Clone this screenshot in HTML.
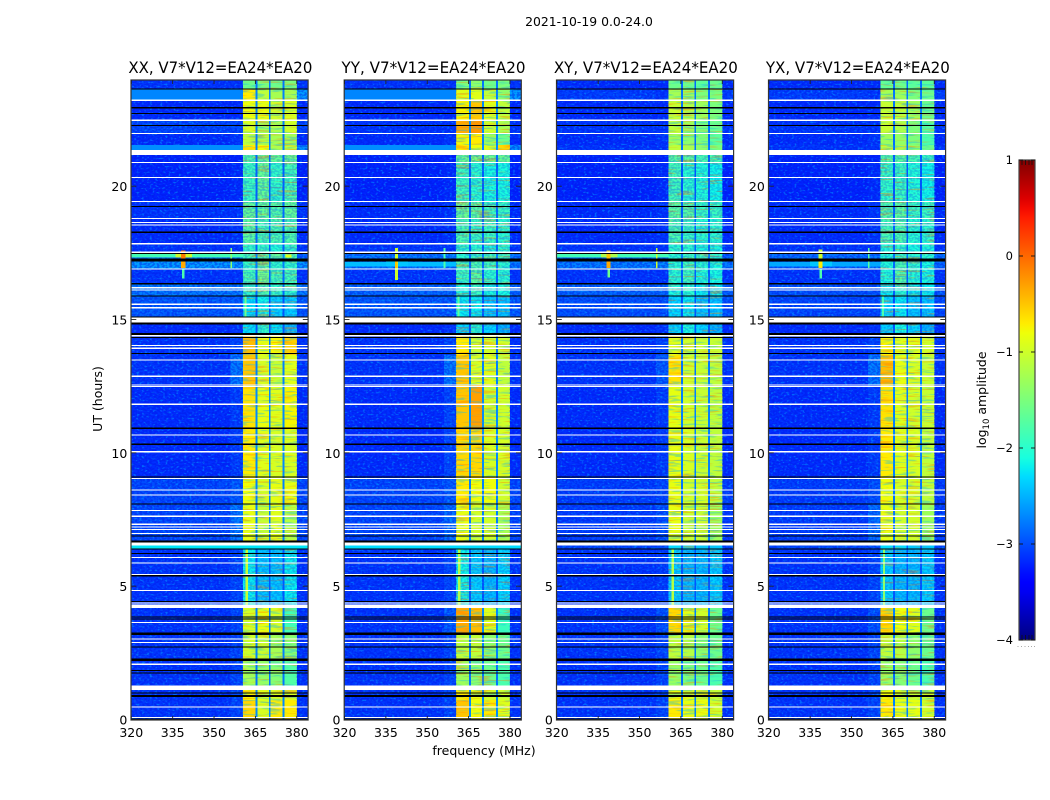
<!DOCTYPE html>
<html lang="en">
<head>
<meta charset="utf-8">
<title>2021-10-19 0.0-24.0 amplitude waterfall</title>
<style>
html,body{margin:0;padding:0;background:#fff;width:1050px;height:800px;overflow:hidden}
svg{display:block}
text{font-family:"DejaVu Sans","Liberation Sans",sans-serif;fill:#000}
</style>
</head>
<body>
<svg id="chart" xmlns="http://www.w3.org/2000/svg" width="1050" height="800" viewBox="0 0 1050 800">
  <defs>
    <linearGradient id="jet-gradient" x1="0" y1="1" x2="0" y2="0"></linearGradient>
    <filter id="speckle-light" x="0" y="0" width="100%" height="100%" color-interpolation-filters="sRGB">
      <feTurbulence type="fractalNoise" baseFrequency="0.38 0.5" numOctaves="1" seed="7"/>
      <feColorMatrix type="matrix" values="0 0 0 0 0  0 0 0 0 0.6  0 0 0 0 1  0 7 0 0 -3.9"/>
    </filter>
    <filter id="speckle-dark" x="0" y="0" width="100%" height="100%" color-interpolation-filters="sRGB">
      <feTurbulence type="fractalNoise" baseFrequency="0.4 0.55" numOctaves="1" seed="23"/>
      <feColorMatrix type="matrix" values="0 0 0 0 0  0 0 0 0 0.08  0 0 0 0 0.9  0 7 0 0 -3.0"/>
    </filter>
    <filter id="streak-warm" x="0" y="0" width="100%" height="100%" color-interpolation-filters="sRGB">
      <feTurbulence type="fractalNoise" baseFrequency="0.04 0.55" numOctaves="2" seed="11"/>
      <feColorMatrix type="matrix" values="0 0 0 0 1  0 0 0 0 0.5  0 0 0 0 0  0 8 0 0 -4.6"/>
    </filter>
    <filter id="streak-cool" x="0" y="0" width="100%" height="100%" color-interpolation-filters="sRGB">
      <feTurbulence type="fractalNoise" baseFrequency="0.06 0.5" numOctaves="2" seed="37"/>
      <feColorMatrix type="matrix" values="0 0 0 0 0.1  0 0 0 0 0.75  0 0 0 0 0.9  0 8 0 0 -4.4"/>
    </filter>
  </defs>
  <text x="589" y="26" text-anchor="middle" font-size="12.4">2021-10-19 0.0-24.0</text>
  <text x="484" y="755" text-anchor="middle" font-size="12.5">frequency (MHz)</text>
  <text transform="translate(102,399) rotate(-90)" text-anchor="middle" font-size="12.5">UT (hours)</text>
  <text transform="translate(986,400) rotate(-90)" text-anchor="middle" font-size="12.5">log<tspan font-size="8.5" dy="3">10</tspan><tspan dy="-3"> amplitude</tspan></text>
  <g id="panels"></g>
  <g id="colorbar"></g>
</svg>
<script>
// ---- chart data (frequency in MHz, time in UT hours, values in log10 amplitude) ----
const panelTitles = ['XX, V7*V12=EA24*EA20', 'YY, V7*V12=EA24*EA20', 'XY, V7*V12=EA24*EA20', 'YX, V7*V12=EA24*EA20'];
const xTickValues = [320, 335, 350, 365, 380];
const yTickValues = [0, 5, 10, 15, 20];
const colorbarTicks = [1, 0, -1, -2, -3, -4];
const freqEdges = [320, 356, 360.5, 365.1, 365.8, 369.9, 370.5, 374.9, 375.6, 380, 384];
const freqColumn = [0, 1, 2, 6, 3, 6, 4, 6, 5, 0];
const timeEdges = [24, 23.66, 23.25, 22.46, 22.01, 21.56, 21.19, 20.93, 19.43, 18.83, 17.89, 17.51, 17.33, 16.91, 16.35, 15.9, 15.08, 14.4, 13.69, 12.56, 10.88, 9.08, 8.06, 6.68, 6.41, 4.31, 3.23, 2.21, 1.2, 0.75, 0];
// columns: background, shoulder, band1, band2, band3, band4, band-gap
const xxValues = [
[-3.1,-3.1,-1.6,-1.5,-1.6,-1.5,-2.8],[-2.6,-2.6,-0.7,-1.1,-1.25,-1.25,-2.75],[-3.15,-3.15,-0.8,-0.85,-1.0,-0.95,-2.75],[-3.0,-3.0,-0.95,-1.3,-1.2,-1.0,-2.75],
[-3.15,-3.1,-1.1,-1.2,-1.25,-1.25,-2.8],[-2.65,-2.65,-0.7,-0.8,-1.2,-1.1,-2.75],[-3.2,-3.2,-1.75,-1.55,-1.65,-1.55,-2.85],[-3.2,-3.15,-1.9,-1.65,-1.95,-1.85,-2.9],
[-3.1,-3.1,-1.65,-1.65,-1.75,-1.65,-2.85],[-3.15,-3.1,-1.7,-1.85,-1.8,-1.75,-2.85],[-3.1,-3.1,-1.95,-1.95,-2.05,-1.95,-2.9],[-2.9,-2.9,-1.85,-1.75,-1.65,-1.75,-2.7],
[-2.6,-2.6,-1.95,-1.65,-1.95,-1.95,-2.75],[-3.1,-3.1,-1.85,-1.55,-1.85,-1.85,-2.85],[-2.75,-2.75,-1.95,-1.75,-1.95,-1.95,-2.85],[-2.9,-2.9,-2.25,-2.15,-2.35,-2.35,-2.95],
[-3.15,-3.1,-2.25,-1.95,-2.25,-2.45,-2.95],[-3.1,-3.0,-0.45,-0.85,-0.75,-0.55,-2.75],[-3.1,-2.75,-0.5,-0.95,-1.05,-0.9,-2.75],[-3.15,-3.05,-0.65,-0.85,-0.9,-0.75,-2.7],
[-3.15,-3.05,-0.7,-0.9,-0.95,-0.95,-2.7],[-3.0,-2.9,-0.8,-0.95,-0.85,-0.85,-2.75],[-3.0,-2.75,-0.85,-1.05,-0.9,-1.15,-2.75],[-2.2,-2.2,-2.1,-2.2,-2.3,-2.3,-2.8],
[-3.1,-3.0,-2.2,-2.4,-2.4,-2.2,-2.95],[-3.1,-3.0,-0.95,-0.85,-0.95,-1.85,-2.75],[-3.1,-3.0,-1.0,-1.05,-1.25,-1.45,-2.75],[-3.1,-3.0,-1.25,-1.35,-1.45,-1.75,-2.8],
[-3.1,-3.0,-0.75,-0.85,-0.95,-0.95,-2.75],[-3.1,-3.0,-0.6,-0.95,-0.7,-0.7,-2.7]
];
const yyValues = [
[-3.1,-3.1,-1.5,-1.4,-1.6,-1.5,-2.8],[-2.6,-2.6,-0.9,-0.9,-1.1,-1.4,-2.75],[-3.15,-3.15,-0.75,-0.5,-0.9,-1.1,-2.7],[-3.1,-3.1,-0.35,-0.25,-1.0,-1.2,-2.7],
[-3.15,-3.1,-0.8,-0.7,-1.3,-1.6,-2.75],[-2.65,-2.65,-0.7,-0.8,-0.9,-0.6,-2.7],[-3.2,-3.2,-1.6,-1.5,-1.6,-1.6,-2.85],[-3.2,-3.15,-1.9,-2.0,-2.1,-2.1,-2.9],
[-3.15,-3.1,-1.6,-1.7,-1.9,-1.9,-2.85],[-3.15,-3.1,-1.8,-1.9,-1.9,-2.0,-2.85],[-3.1,-3.1,-2.0,-2.0,-2.1,-2.0,-2.9],[-2.75,-2.7,-2.0,-1.9,-1.9,-1.9,-2.75],
[-2.75,-2.7,-1.9,-1.8,-1.9,-2.0,-2.8],[-3.1,-3.1,-1.9,-1.7,-2.0,-2.0,-2.9],[-2.85,-2.85,-2.1,-1.9,-2.1,-2.1,-2.9],[-2.9,-2.9,-2.2,-2.2,-2.4,-2.4,-2.95],
[-3.15,-3.1,-2.3,-2.0,-2.3,-2.5,-2.95],[-3.1,-3.0,-0.7,-1.0,-1.0,-1.0,-2.8],[-3.1,-2.75,-0.5,-0.95,-0.9,-1.1,-2.75],[-3.15,-3.0,-0.5,-0.3,-1.0,-1.0,-2.7],
[-3.15,-3.0,-0.6,-0.6,-0.95,-0.95,-2.7],[-3.0,-2.9,-0.7,-0.8,-0.8,-1.0,-2.75],[-3.0,-2.8,-0.85,-1.0,-1.0,-1.25,-2.75],[-2.2,-2.2,-2.1,-2.2,-2.3,-2.3,-2.8],
[-3.1,-3.0,-2.15,-2.35,-2.45,-2.3,-2.95],[-3.1,-2.9,-0.35,-0.45,-0.9,-1.9,-2.7],[-3.1,-3.0,-1.1,-1.1,-1.4,-1.6,-2.75],[-3.1,-3.0,-1.3,-1.4,-1.6,-1.8,-2.8],
[-3.1,-3.0,-0.7,-0.85,-1.0,-1.0,-2.75],[-3.1,-3.0,-0.5,-0.8,-0.7,-0.9,-2.7]
];
const xyValues = [
[-3.15,-3.15,-1.6,-1.6,-1.7,-1.6,-2.85],[-3.05,-3.1,-1.25,-1.3,-1.5,-1.5,-2.8],[-3.15,-3.15,-1.05,-1.15,-1.3,-1.5,-2.8],[-3.1,-3.1,-1.1,-1.3,-1.5,-1.6,-2.8],
[-3.15,-3.1,-1.3,-1.4,-1.5,-1.7,-2.85],[-3.1,-3.1,-1.1,-1.2,-1.4,-1.5,-2.8],[-3.2,-3.2,-1.7,-1.7,-1.8,-1.8,-2.9],[-3.2,-3.15,-1.85,-2.0,-2.05,-2.15,-2.95],
[-3.15,-3.1,-1.7,-1.75,-1.9,-1.9,-2.9],[-3.15,-3.1,-1.8,-1.9,-2.0,-2.0,-2.9],[-3.1,-3.1,-2.0,-2.0,-2.1,-2.1,-2.9],[-2.9,-2.9,-2.0,-1.9,-1.9,-2.0,-2.75],
[-2.75,-2.7,-2.0,-1.9,-2.0,-2.1,-2.85],[-3.1,-3.1,-2.0,-1.85,-2.05,-2.1,-2.9],[-2.85,-2.85,-2.1,-2.0,-2.2,-2.2,-2.9],[-2.95,-2.95,-2.3,-2.2,-2.4,-2.4,-2.95],
[-3.15,-3.1,-2.3,-2.1,-2.3,-2.5,-2.95],[-3.1,-3.0,-0.9,-1.0,-1.05,-1.05,-2.8],[-3.1,-2.9,-0.65,-1.0,-1.05,-1.1,-2.8],[-3.15,-3.05,-0.85,-1.0,-1.05,-1.1,-2.75],
[-3.15,-3.05,-0.85,-0.95,-1.05,-1.1,-2.75],[-3.05,-3.0,-0.85,-1.0,-1.0,-1.1,-2.8],[-3.05,-2.95,-0.85,-1.05,-1.05,-1.3,-2.8],[-3.0,-3.0,-2.3,-2.3,-2.4,-2.4,-2.9],
[-3.1,-3.05,-2.35,-2.45,-2.45,-2.35,-2.95],[-3.1,-2.95,-0.6,-0.85,-1.0,-1.6,-2.75],[-3.1,-3.0,-1.1,-1.15,-1.4,-1.6,-2.8],[-3.1,-3.0,-1.35,-1.5,-1.6,-1.8,-2.85],
[-3.1,-3.0,-0.8,-0.9,-1.05,-1.05,-2.8],[-3.1,-3.0,-0.7,-0.85,-0.85,-1.0,-2.75]
];
const yxValues = [
[-3.15,-3.15,-1.65,-1.6,-1.7,-1.7,-2.85],[-3.05,-3.1,-1.25,-1.3,-1.5,-1.6,-2.8],[-3.15,-3.15,-1.05,-1.1,-1.3,-1.6,-2.8],[-3.1,-3.1,-1.05,-1.2,-1.5,-1.7,-2.8],
[-3.15,-3.1,-1.3,-1.35,-1.5,-1.8,-2.85],[-3.1,-3.1,-1.1,-1.2,-1.4,-1.6,-2.8],[-3.2,-3.2,-1.7,-1.7,-1.8,-1.9,-2.9],[-3.2,-3.15,-1.95,-1.9,-2.05,-2.15,-2.95],
[-3.15,-3.1,-1.75,-1.7,-1.9,-1.9,-2.9],[-3.15,-3.1,-1.85,-1.8,-2.0,-2.0,-2.9],[-3.1,-3.1,-2.05,-1.95,-2.1,-2.1,-2.9],[-2.8,-2.75,-2.05,-1.9,-2.0,-2.0,-2.8],
[-2.85,-2.75,-2.05,-1.8,-2.0,-2.1,-2.85],[-3.1,-3.1,-2.05,-1.75,-2.05,-2.1,-2.9],[-2.95,-2.95,-2.2,-2.0,-2.2,-2.2,-2.9],[-3.0,-3.0,-2.3,-2.2,-2.4,-2.4,-2.95],
[-3.15,-3.1,-2.35,-2.1,-2.3,-2.5,-2.95],[-3.1,-3.0,-0.75,-0.9,-0.9,-1.0,-2.8],[-3.1,-2.75,-0.45,-0.85,-0.95,-1.05,-2.75],[-3.15,-3.05,-0.65,-0.9,-1.0,-1.05,-2.75],
[-3.15,-3.05,-0.7,-0.9,-0.95,-1.1,-2.75],[-3.05,-2.95,-0.8,-0.95,-0.95,-1.1,-2.8],[-3.05,-2.8,-0.85,-1.0,-1.0,-1.3,-2.8],[-3.0,-2.95,-2.3,-2.3,-2.4,-2.4,-2.9],
[-3.1,-3.0,-2.35,-2.45,-2.45,-2.35,-2.95],[-3.1,-2.95,-0.6,-0.8,-0.9,-1.6,-2.75],[-3.1,-3.0,-1.1,-1.15,-1.4,-1.6,-2.8],[-3.1,-3.0,-1.35,-1.45,-1.6,-1.8,-2.85],
[-3.1,-3.0,-0.8,-0.9,-1.05,-1.05,-2.8],[-3.1,-3.0,-0.7,-0.85,-0.85,-1.0,-2.75]
];
const panelValues = [xxValues, yyValues, xyValues, yxValues];
// narrow features drawn over the texture: [low MHz, high MHz, late UT, early UT, log amplitude] per panel
const xxFeatures = [[320,360.5,23.66,23.25,-2.72],[320,360.5,21.56,21.38,-2.68],[320,384,6.63,6.43,-2.25],[320,360.5,17.5,17.34,-1.85],[336,342,17.5,17.34,-1.0],[338,339.6,17.6,17.3,-0.1],[338,339.6,17.2,16.95,-0.35],[338.3,339.2,16.9,16.55,-1.8],[355.9,356.6,17.7,16.95,-1.4],[361.5,362.4,6.41,4.31,-1.05],[361,361.7,15.9,15.1,-1.6],[376,378,17.45,17.35,-0.9]];
const yyFeatures = [[320,360.5,23.66,23.25,-2.72],[320,360.5,21.56,21.38,-2.68],[320,384,6.63,6.43,-2.3],[320,360.5,17.17,17.0,-2.45],[335,343,17.28,17.0,-2.4],[338.3,339.4,17.7,16.5,-1.0],[338.4,339.2,17.25,16.95,-0.5],[355.9,356.6,17.7,16.95,-1.8],[361.2,362.1,6.41,4.31,-1.2],[361,361.7,15.9,15.1,-1.7]];
const xyFeatures = [[320,360.5,17.5,17.34,-1.85],[336,342,17.5,17.34,-1.2],[338,339.4,17.6,17.3,-0.5],[338,339.4,17.2,16.95,-0.35],[338.3,339.2,16.9,16.6,-1.6],[355.9,356.6,17.7,16.95,-1.0],[361.6,362.5,6.41,4.31,-1.15]];
const yxFeatures = [[320,360.5,17.17,17.0,-2.55],[335,343,17.3,17.0,-2.4],[338,339.4,17.65,17.3,-1.0],[338,339.4,17.25,16.95,-0.7],[338.3,339.2,16.9,16.55,-1.8],[355.9,356.6,17.7,16.95,-1.7],[361.4,362.2,6.41,4.31,-1.4],[361,361.7,15.9,15.1,-1.8]];
const panelFeatures = [xxFeatures, yyFeatures, xyFeatures, yxFeatures];
// time spans where the bands look noisy rather than smooth (late UT, early UT)
const noisyBandSpans = [[21.19, 14.4], [6.41, 4.31]];
// flagged (no data) integrations, shared by all panels
const whiteRowsUT = [23.24,22.49,22.0,20.91,20.35,19.45,18.8,18.65,18.57,17.86,17.54,16.91,16.21,16.13,15.59,15.46,14.41,14.04,13.94,13.5,12.89,12.57,12.51,11.84,10.68,10.06,9.06,8.63,8.43,7.86,7.64,7.34,7.24,7.14,7.0,6.1,5.88,5.45,4.86,4.38,3.66,3.03,2.91,2.09,0.48,0.1];
const whiteBandsUT = [[21.38,21.19],[15.09,14.91],[6.66,6.55],[4.34,4.2],[1.3,1.13]];
const blackRowsUT = [23.67,22.96,22.75,22.29,19.26,18.29,17.5,16.36,15.9,15.11,14.34,13.74,10.94,10.34,9.11,8.1,6.9,6.42,6.24,5.41,4.45,3.87,3.78,2.73,1.85,1.77,1.01];
const blackBandsUT = [[17.31,17.19],[14.94,14.84],[14.51,14.43],[6.73,6.66],[3.28,3.19],[2.31,2.21],[0.94,0.86],[0.05,0]];

// ---- layout ----
const panelLefts = [131.3, 344.5, 556.8, 768.8];
const panelWidth = 176.5;
const plotTop = 80, plotBottom = 720;
const freqMin = 320, freqMax = 384, utMin = 0, utMax = 24;
const cbarLeft = 1019, cbarRight = 1035, cbarTop = 160, cbarBottom = 640;
const NS = 'http://www.w3.org/2000/svg';

function make(tag, attrs, parent) {
  const el = document.createElementNS(NS, tag);
  for (const k in attrs) el.setAttribute(k, attrs[k]);
  parent.appendChild(el);
  return el;
}
function xScale(left, mhz) { return left + (mhz - freqMin) / (freqMax - freqMin) * panelWidth; }
function yScale(ut) { return plotBottom - (ut - utMin) / (utMax - utMin) * (plotBottom - plotTop); }
function cbarScale(v) { return cbarBottom - (v + 4) / 5 * (cbarBottom - cbarTop); }
function ramp(t, pts) {
  for (let i = 1; i < pts.length; i++) {
    if (t <= pts[i][0]) {
      const a = pts[i - 1], b = pts[i];
      return a[1] + (b[1] - a[1]) * (t - a[0]) / (b[0] - a[0]);
    }
  }
  return pts[pts.length - 1][1];
}
function jet(v) {
  const t = Math.max(0, Math.min(1, (v + 4) / 5));
  const r = ramp(t, [[0,0],[0.35,0],[0.66,1],[0.89,1],[1,0.5]]);
  const g = ramp(t, [[0,0],[0.125,0],[0.375,1],[0.64,1],[0.91,0],[1,0]]);
  const b = ramp(t, [[0,0.5],[0.11,1],[0.34,1],[0.65,0],[1,0]]);
  return 'rgb(' + Math.round(r * 255) + ',' + Math.round(g * 255) + ',' + Math.round(b * 255) + ')';
}

const panelsRoot = document.getElementById('panels');

panelTitles.forEach(function (title, p) {
  const left = panelLefts[p];
  const right = left + panelWidth;
  const panel = make('g', {}, panelsRoot);
  
  

  const heat = make('g', { 'shape-rendering': 'crispEdges' }, panel);
  
  

  // coarse time/frequency cells
  panelValues[p].forEach(function (row, r) {
    const yTop = yScale(timeEdges[r]);
    const yBot = yScale(timeEdges[r + 1]);
    freqColumn.forEach(function (col, c) {
      const x0 = xScale(left, freqEdges[c]);
      const x1 = xScale(left, freqEdges[c + 1]);
      const cell = make('rect', { x: x0, y: yTop, width: x1 - x0, height: yBot - yTop, fill: jet(row[col]) }, heat);
      
      
    });
  });

  // decorative receiver-noise texture over the out-of-band background
  [[320, 360.5], [380, 384]].forEach(function (span) {
    const lightTex = make('rect', { x: xScale(left, span[0]), y: plotTop, width: xScale(left, span[1]) - xScale(left, span[0]), height: plotBottom - plotTop, filter: 'url(#speckle-light)', opacity: 0.55 }, heat);
    
    
    const darkTex = make('rect', { x: xScale(left, span[0]), y: plotTop, width: xScale(left, span[1]) - xScale(left, span[0]), height: plotBottom - plotTop, filter: 'url(#speckle-dark)', opacity: 0.42 }, heat);
    
    
  });

  // decorative horizontal streak texture inside the bands
  [[360.5, 365.1], [365.8, 369.9], [370.5, 374.9], [375.6, 380]].forEach(function (span) {
    ['streak-warm', 'streak-cool'].forEach(function (id) {
      const tex = make('rect', { x: xScale(left, span[0]), y: plotTop, width: xScale(left, span[1]) - xScale(left, span[0]), height: plotBottom - plotTop, filter: 'url(#' + id + ')', opacity: 0.4 }, heat);
      
      
    });
    noisyBandSpans.forEach(function (s) {
      const tex = make('rect', { x: xScale(left, span[0]), y: yScale(s[0]), width: xScale(left, span[1]) - xScale(left, span[0]), height: yScale(s[1]) - yScale(s[0]), filter: 'url(#speckle-dark)', opacity: 0.2 }, heat);
      
      
    });
  });

  // interference features
  panelFeatures[p].forEach(function (f) {
    const mark = make('rect', { x: xScale(left, f[0]), y: yScale(f[2]), width: xScale(left, f[1]) - xScale(left, f[0]), height: yScale(f[3]) - yScale(f[2]), fill: jet(f[4]) }, heat);
    
    
  });

  // flagged integrations
  function flag(hi, lo, color) {
    const bar = make('rect', { x: left, y: yScale(hi), width: panelWidth, height: Math.max(1, yScale(lo) - yScale(hi)), fill: color }, heat);
    
    
  }
  blackRowsUT.forEach(function (u) { flag(u + 0.02, u - 0.02, '#000'); });
  blackBandsUT.forEach(function (b) { flag(b[0], b[1], '#000'); });
  whiteRowsUT.forEach(function (u) { flag(u + 0.02, u - 0.02, '#fff'); });
  whiteBandsUT.forEach(function (b) { flag(b[0], b[1], '#fff'); });

  // frame
  const frame = make('rect', { x: left - 0.3, y: plotTop, width: panelWidth + 0.6, height: plotBottom - plotTop, fill: 'none', stroke: '#333', 'stroke-width': 1.2 }, panel);
  
  

  // ticks
  xTickValues.forEach(function (v) {
    const x = xScale(left, v);
    const tb = make('line', { x1: x, x2: x, y1: plotBottom, y2: plotBottom - 4, stroke: '#222', 'stroke-width': 0.9 }, panel);
    
    
    const tt = make('line', { x1: x, x2: x, y1: plotTop, y2: plotTop + 4, stroke: '#222', 'stroke-width': 0.9 }, panel);
    
    
    const lab = make('text', { x: x, y: 737, 'text-anchor': 'middle', 'font-size': 12.5 }, panel);
    lab.textContent = String(v);
    
    
  });
  yTickValues.forEach(function (v) {
    const y = yScale(v) - 0.5;
    const tl = make('line', { x1: left, x2: left + 5, y1: y, y2: y, stroke: '#222', 'stroke-width': 0.9 }, panel);
    
    
    const tr = make('line', { x1: right, x2: right - 5, y1: y, y2: y, stroke: '#222', 'stroke-width': 0.9 }, panel);
    
    
    const lab = make('text', { x: left - 4, y: y + 5, 'text-anchor': 'end', 'font-size': 12.5 }, panel);
    lab.textContent = String(v);
    
    
  });

  const ttl = make('text', { x: left + panelWidth / 2 + 0.8, y: 73, 'text-anchor': 'middle', 'font-size': 16, textLength: 184, lengthAdjust: 'spacingAndGlyphs' }, panel);
  ttl.textContent = title;
  
  
});

// ---- colour bar ----
const grad = document.getElementById('jet-gradient');
for (let i = 0; i <= 50; i++) {
  make('stop', { offset: (i * 2) + '%', 'stop-color': jet(-4 + i / 10) }, grad);
}
const cbarRoot = document.getElementById('colorbar');
const bar = make('rect', { x: cbarLeft, y: cbarTop, width: cbarRight - cbarLeft, height: cbarBottom - cbarTop, fill: 'url(#jet-gradient)', stroke: '#444', 'stroke-width': 1.2 }, cbarRoot);


colorbarTicks.forEach(function (v) {
  const y = cbarScale(v);
  const a = make('line', { x1: cbarLeft, x2: cbarLeft + 4, y1: y, y2: y, stroke: '#111', 'stroke-width': 0.9 }, cbarRoot);
  
  
  const b = make('line', { x1: cbarRight, x2: cbarRight - 4, y1: y, y2: y, stroke: '#111', 'stroke-width': 0.9 }, cbarRoot);
  
  
  const lab = make('text', { x: 1013, y: y + 4, 'text-anchor': 'end', 'font-size': 11.5 }, cbarRoot);
  lab.textContent = v < 0 ? '\u2212' + Math.abs(v) : String(v);
  
  
});
[1022, 1025.5, 1029, 1032].forEach(function (x) {
  const t = make('line', { x1: x, x2: x, y1: cbarTop, y2: cbarTop + 5, stroke: '#111', 'stroke-width': 0.8 }, cbarRoot);
  
  
  const u = make('line', { x1: x, x2: x, y1: cbarBottom, y2: cbarBottom - 5, stroke: '#111', 'stroke-width': 0.8 }, cbarRoot);
  
  
});
[1017.5, 1021, 1024.5, 1028, 1031, 1034].forEach(function (x) {
  const d = make('rect', { x: x, y: 646, width: 1, height: 1, fill: '#aaa' }, cbarRoot);
  
  
});
</script>
</body>
</html>
